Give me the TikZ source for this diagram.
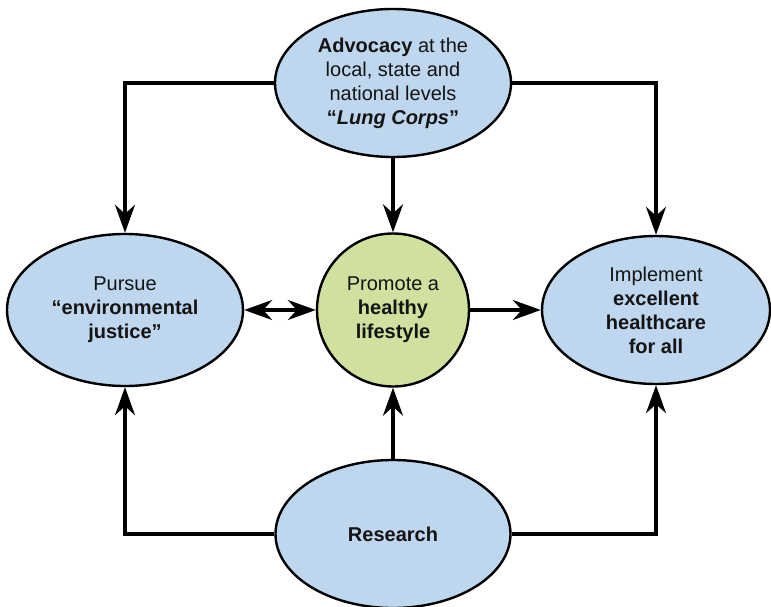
\documentclass[tikz,border=0pt]{standalone}
\usepackage{fontspec}
\setmainfont{Liberation Sans}
\usetikzlibrary{shapes.geometric,arrows.meta}
\definecolor{bubbleblue}{RGB}{190,215,238}
\definecolor{bubblegreen}{RGB}{208,224,158}
\begin{document}
\begin{tikzpicture}[x=1pt, y=-1pt,
    bubble/.style = {ellipse, draw=black, line width=2.4pt, fill=bubbleblue, inner sep=0pt,
                     align=center, text=black!92, font=\fontsize{20}{24}\selectfont},
    link/.style = {line width=3.2pt, -{Stealth[length=28pt, width=20pt, inset=9pt]}},
    twolink/.style = {line width=3.2pt, {Stealth[length=28pt, width=20pt, inset=9pt]}-{Stealth[length=28pt, width=20pt, inset=9pt]}}]
    \useasboundingbox (0,0) rectangle (771,607);
    \node[bubble, minimum width=236pt, minimum height=148pt] (adv) at (393,83)
        {\textbf{Advocacy} at the\\local, state and\\national levels\\\textbf{``\textit{Lung Corps}''}};
    \node[bubble, minimum width=236pt, minimum height=152pt] (just) at (125,310)
        {Pursue\\\textbf{``environmental}\\\textbf{justice''}};
    \node[bubble, fill=bubblegreen, minimum width=152pt, minimum height=153pt] (prom) at (393,310)
        {Promote a\\\textbf{healthy}\\\textbf{lifestyle}};
    \node[bubble, minimum width=228pt, minimum height=148pt] (impl) at (656,310)
        {Implement\\\textbf{excellent}\\\textbf{healthcare}\\\textbf{for all}};
    \node[bubble, minimum width=235pt, minimum height=148pt] (res) at (393,534)
        {\textbf{Research}};

    \draw[link] (adv.west) -| (just.north);
    \draw[link] (adv.east) -| (impl.north);
    \draw[link] (adv.south) -- (prom.north);
    \draw[twolink] (just.east) -- (prom.west);
    \draw[link] (prom.east) -- (impl.west);
    \draw[link] (res.west) -| (just.south);
    \draw[link] (res.east) -| (impl.south);
    \draw[link] (res.north) -- (prom.south);
\end{tikzpicture}
\end{document}
